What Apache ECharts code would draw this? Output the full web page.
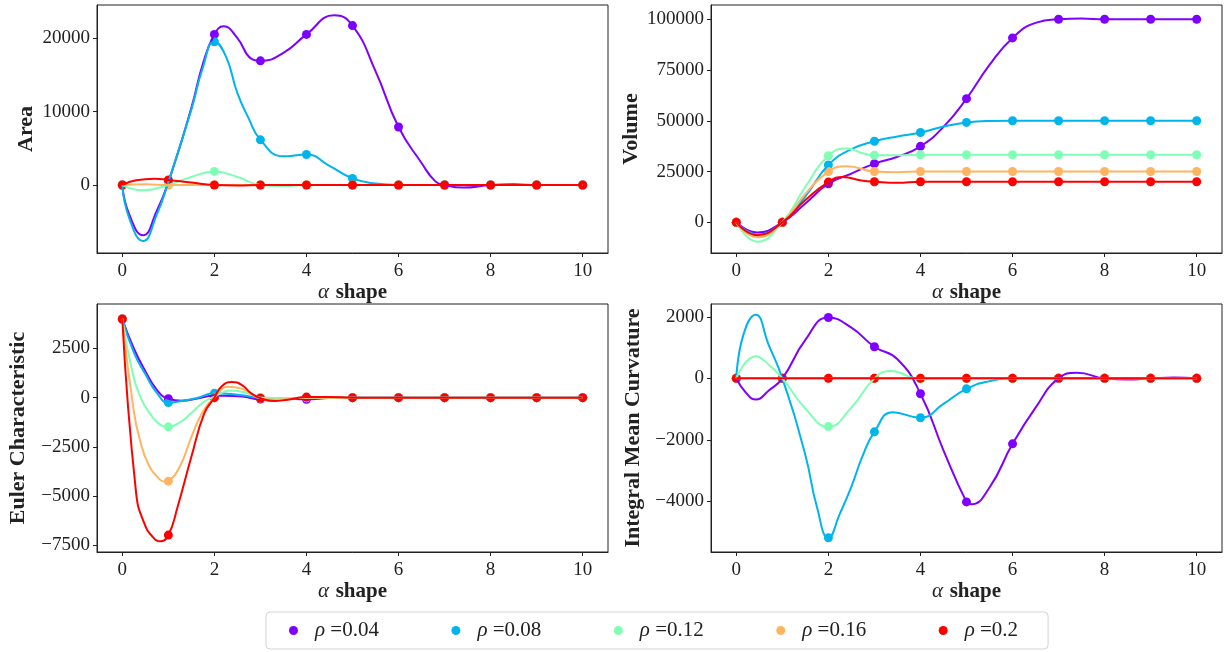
<!DOCTYPE html>
<html>
<head>
<meta charset="utf-8">
<script src="https://cdn.jsdelivr.net/npm/echarts@6/dist/echarts.min.js"></script>
<style>
  html, body { margin: 0; padding: 0; background: #fff; }
  #chart { width: 1228px; height: 652px; }
</style>
</head>
<body>
<div id="chart"></div>
<script>
// alpha shape values where the points sit
var alphaPts = [0, 1, 2, 3, 4, 5, 6, 7, 8, 9, 10];
var xTicks = [0, 2, 4, 6, 8, 10];

var rhoNames = ['ρ =0.04', 'ρ =0.08', 'ρ =0.12', 'ρ =0.16', 'ρ =0.2'];
var colors = ['#8000ff', '#00b4ec', '#80ffb4', '#ffb462', '#ff0000'];

// Area: points, then [alpha, value]
var areaTicks = [0, 10000, 20000];
var areaPts = [
  [0, 400, 20500, 16900, 20500, 21700, 7900, 0, 0, 0, 0],
  [0, 400, 19500, 6150, 4150, 900, 0, 0, 0, 0, 0],
  [0, 0, 1850, 0, 0, 0, 0, 0, 0, 0, 0],
  [0, 0, 0, 0, 0, 0, 0, 0, 0, 0, 0],
  [0, 700, 0, 0, 0, 0, 0, 0, 0, 0, 0]
];
var areaBends = [
  [[0.15, -4000], [0.45, -6850], [0.75, -3500], [1.5, 10500], [1.75, 16500], [2.2, 21600], [2.5, 20000],
   [2.8, 17200], [3.5, 18000], [4.6, 23100], [5.5, 15500], [6.5, 3000], [6.8, 500], [7.4, -350], [8.5, 100]],
  [[0.15, -4500], [0.45, -7600], [0.75, -4000], [1.5, 10300], [1.75, 16000], [2.25, 17500], [2.5, 12500],
   [2.75, 9000], [3.5, 3900], [4.5, 2600], [5.5, 200]],
  [[0.45, -700], [1.5, 1100], [2.5, 1100], [3.5, -150]],
  [[0.5, 100]],
  [[0.3, 650], [0.7, 870], [1.5, 330], [2.5, -50]]
];

// Volume
var volTicks = [0, 25000, 50000, 75000, 100000];
var volPts = [
  [0, 0, 19000, 28900, 37400, 60900, 90800, 100000, 100000, 100000, 100000],
  [0, 0, 28200, 39900, 44200, 49200, 50000, 50000, 50000, 50000, 50000],
  [0, 0, 32800, 33000, 33300, 33300, 33300, 33300, 33300, 33300, 33300],
  [0, 0, 25000, 25000, 25000, 25000, 25000, 25000, 25000, 25000, 25000],
  [0, 0, 19800, 20000, 20000, 20000, 20000, 20000, 20000, 20000, 20000]
];
var volBends = [
  [[0.45, -5000], [1.5, 9300], [2.5, 24000], [3.5, 32300], [4.5, 47000], [5.5, 77500], [6.5, 98200], [7.5, 100300]],
  [[0.45, -5900], [1.5, 12800], [2.5, 36000], [3.5, 42300], [4.5, 47200], [5.5, 49900]],
  [[0.45, -9500], [1.5, 17500], [2.4, 36400], [2.75, 34000], [3.5, 33000]],
  [[0.45, -7400], [1.5, 14000], [2.4, 27600], [3.5, 24700]],
  [[0.45, -6300], [1.5, 11000], [2.3, 22300], [2.75, 20500], [3.5, 19500]]
];

// Euler characteristic
var eulerTicks = [-7500, -5000, -2500, 0, 2500];
var eulerPts = [
  [4000, -50, 100, -70, -80, 0, 0, 0, 0, 0, 0],
  [4000, -250, 220, 0, 0, 0, 0, 0, 0, 0, 0],
  [4000, -1480, 50, 0, 0, 0, 0, 0, 0, 0, 0],
  [4000, -4240, 0, -30, 0, 0, 0, 0, 0, 0, 0],
  [4000, -6980, 0, -30, 30, 0, 0, 0, 0, 0, 0]
];
var eulerBends = [
  [[0.25, 2500], [0.5, 1350], [0.75, 400], [1.3, -150], [1.6, -60], [2.2, 100], [2.6, 60], [3.5, -50], [4.5, -20]],
  [[0.25, 2300], [0.5, 1200], [0.75, 250], [1.3, -160], [1.6, -30], [2.2, 210], [2.6, 120], [3.5, -20]],
  [[0.2, 1500], [0.4, 0], [0.6, -800], [0.8, -1330], [1.25, -1250], [1.5, -780], [1.75, -250], [2.35, 360],
   [2.7, 250], [3.5, -20]],
  [[0.25, -700], [0.4, -2300], [0.55, -3300], [0.75, -4000], [0.95, -4270], [1.25, -3500],
   [1.5, -2000], [1.75, -700], [2.3, 560], [2.6, 450], [3.3, -100]],
  [[0.3, -4850], [0.48, -6400], [0.66, -7070], [0.82, -7300], [1.2, -5550],
   [1.5, -3000], [1.78, -800], [2.15, 560], [2.38, 800], [2.6, 640], [2.8, 220], [3.3, -170], [3.6, -100], [4.5, 40]]
];

// Integral mean curvature
var imcTicks = [-4000, -2000, 0, 2000];
var imcPts = [
  [0, 0, 1980, 1030, -500, -4020, -2130, 0, 0, 0, 0],
  [0, 0, -5190, -1740, -1280, -340, 0, 0, 0, 0, 0],
  [0, 0, -1570, 0, -20, 0, 0, 0, 0, 0, 0],
  [0, 0, 0, 0, 0, 0, 0, 0, 0, 0, 0],
  [0, 0, 0, 0, 0, 0, 0, 0, 0, 0, 0]
];
var imcBends = [
  [[0.2, -450], [0.43, -690], [0.7, -400], [1.5, 1250], [2.5, 1650], [3.5, 620], [4.5, -2340], [5.1, -4100],
   [5.5, -3550], [6.5, -950], [7.4, 180], [8.5, -40], [9.5, 30]],
  [[0.15, 1400], [0.42, 2070], [0.7, 1100], [1.5, -2500], [1.75, -4180], [2.25, -4400], [2.5, -3520],
   [2.75, -2500], [3.4, -1100], [4.5, -830], [5.5, -90]],
  [[0.42, 720], [0.7, 450], [1.5, -980], [2.5, -950], [3.35, 240], [4.5, 0]],
  [],
  []
];

var font = 'Liberation Serif';
var ink = '#222';

var panels = [
  { name: 'Area', pts: areaPts, bends: areaBends, ticks: areaTicks, min: -9250, max: 24500, left: 97, top: 5, gap: 60 },
  { name: 'Volume', pts: volPts, bends: volBends, ticks: volTicks, min: -15100, max: 107000, left: 711, top: 5, gap: 69 },
  { name: 'Euler Characteristic', pts: eulerPts, bends: eulerBends, ticks: eulerTicks, min: -7840, max: 4760, left: 97, top: 304, gap: 68 },
  { name: 'Integral Mean Curvature', pts: imcPts, bends: imcBends, ticks: imcTicks, min: -5650, max: 2420, left: 711, top: 304, gap: 67 }
];

function minusSign(v) {
  return String(v).replace('-', '\u2212');
}

var grids = [], xAxes = [], yAxes = [], series = [];

panels.forEach(function(p, k) {
  grids.push({
    left: p.left, top: p.top, width: 511, height: 248,
    show: true, borderColor: ink, borderWidth: 1
  });
  xAxes.push({
    gridIndex: k, type: 'value', min: -0.55, max: 10.55,
    splitLine: { show: false },
    axisLine: { show: true, onZero: false, lineStyle: { color: ink } },
    axisTick: { customValues: xTicks, length: 4, lineStyle: { color: ink } },
    axisLabel: { customValues: xTicks, fontFamily: font, fontSize: 19, color: ink, margin: 9 },
    name: '{a|α}  {b|shape}', nameLocation: 'middle', nameGap: 28,
    nameTextStyle: {
      color: ink,
      rich: {
        a: { fontFamily: font, fontSize: 21, fontStyle: 'italic', color: ink },
        b: { fontFamily: font, fontSize: 21, fontWeight: 'bold', color: ink }
      }
    }
  });
  yAxes.push({
    gridIndex: k, type: 'value', min: p.min, max: p.max,
    splitLine: { show: false },
    axisLine: { show: true, onZero: false, lineStyle: { color: ink } },
    axisTick: { customValues: p.ticks, length: 4, lineStyle: { color: ink } },
    axisLabel: { customValues: p.ticks, fontFamily: font, fontSize: 19, color: ink, margin: 7, formatter: minusSign },
    name: p.name, nameLocation: 'middle', nameGap: p.gap,
    nameTextStyle: { fontFamily: font, fontSize: 22, fontWeight: 'bold', color: ink }
  });

  for (var s = 0; s < 5; s++) {
    var dots = [];
    for (var i = 0; i < alphaPts.length; i++) dots.push([alphaPts[i], p.pts[s][i]]);
    var curve = dots.concat(p.bends[s]).sort(function(a, b) { return a[0] - b[0]; });
    series.push({
      type: 'line', name: rhoNames[s], xAxisIndex: k, yAxisIndex: k,
      data: curve, smooth: 0.5, showSymbol: false, silent: true,
      lineStyle: { width: 2, color: colors[s] }, itemStyle: { color: colors[s] }
    });
    series.push({
      type: 'scatter', name: rhoNames[s], xAxisIndex: k, yAxisIndex: k,
      data: dots, symbolSize: 9, silent: true,
      itemStyle: { color: colors[s], opacity: 1 }
    });
  }
});

var chart = echarts.init(document.getElementById('chart'));
chart.setOption({
  animation: false,
  backgroundColor: '#fff',
  grid: grids,
  xAxis: xAxes,
  yAxis: yAxes,
  legend: {
    data: rhoNames.map(function(n) { return { name: n, icon: 'circle' }; }),
    left: 266, top: 612,
    itemWidth: 9, itemHeight: 10, itemGap: 72.5,
    padding: [8, 30, 8, 23],
    borderColor: '#d4d4d4', borderWidth: 1, borderRadius: 4,
    selectedMode: false,
    formatter: function(n) { return '{r|ρ}{t|' + n.slice(1) + '}'; },
    textStyle: {
      fontFamily: font, fontSize: 21, color: ink, padding: [0, 0, 0, 12],
      rich: {
        r: { fontFamily: font, fontSize: 21, fontStyle: 'italic', color: ink },
        t: { fontFamily: font, fontSize: 21, color: ink }
      }
    }
  },
  series: series
});
</script>
</body>
</html>
